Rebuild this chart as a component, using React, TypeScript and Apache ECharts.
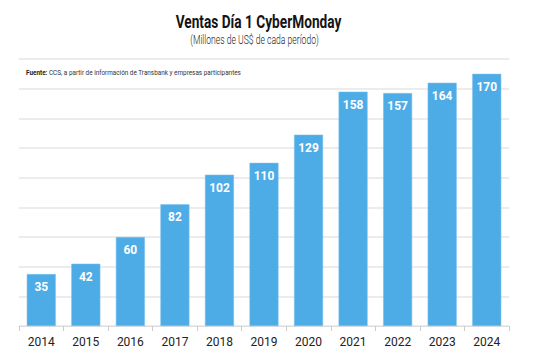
import React, { useEffect, useRef } from "react";
import * as echarts from "echarts";

const years = ["2014", "2015", "2016", "2017", "2018", "2019", "2020", "2021", "2022", "2023", "2024"];
const sales = [35, 42, 60, 82, 102, 110, 129, 158, 157, 164, 170];

const titleText = "Ventas Día 1 CyberMonday";
const subtitleText = "(Millones de US$ de cada período)";
const sourceLabel = "Fuente:";
const sourceText = " CCS, a partir de información de Transbank y empresas participantes";

const FONT = "Roboto, 'Noto Sans', sans-serif";

export default function App() {
  const ref = useRef<HTMLDivElement>(null);
  useEffect(() => {
    document.body.style.margin = "0";
    const chart = echarts.init(ref.current!, null, { renderer: "svg" });
    chart.setOption({
      animation: false,
      backgroundColor: "#ffffff",
      textStyle: { fontFamily: FONT },
      graphic: [
        {
          type: "text",
          x: 258.5,
          y: 22,
          scaleX: 0.72,
          style: {
            text: titleText,
            x: 0,
            y: 0,
            textAlign: "center",
            textVerticalAlign: "middle",
            fontFamily: FONT,
            fontSize: 19,
            fontWeight: "bold",
            fill: "#141414",
          },
        },
        {
          type: "text",
          x: 254.5,
          y: 40,
          scaleX: 0.69,
          style: {
            text: subtitleText,
            x: 0,
            y: 0,
            textAlign: "center",
            textVerticalAlign: "middle",
            fontFamily: FONT,
            fontSize: 12.5,
            fontWeight: 300,
            fill: "#222222",
          },
        },
        {
          type: "text",
          x: 26,
          y: 72.5,
          scaleX: 0.91,
          style: {
            x: 0,
            y: 0,
            textVerticalAlign: "middle",
            rich: {
              b: { fontFamily: FONT, fontSize: 7, fontWeight: "bold", fill: "#222" },
              n: { fontFamily: FONT, fontSize: 7, fill: "#333" },
            },
            text: "{b|" + sourceLabel + "}{n|" + sourceText + "}",
          },
        },
      ],
      grid: { left: 19, right: 36, top: 59, bottom: 38, containLabel: false },
      xAxis: {
        type: "category",
        data: years,
        axisLine: { show: true, lineStyle: { color: "#dddddd", width: 1 } },
        axisTick: { show: true, length: 5, lineStyle: { color: "#cccccc" } },
        axisLabel: { color: "#222222", fontSize: 12, margin: 10, fontFamily: FONT },
      },
      yAxis: {
        type: "value",
        min: 0,
        max: 180,
        interval: 20,
        axisLabel: { show: false },
        axisLine: { show: false },
        axisTick: { show: false },
        splitLine: { show: true, lineStyle: { color: "#e6e6e6", width: 1.5 } },
      },
      series: [
        {
          type: "bar",
          data: sales,
          barWidth: 29,
          itemStyle: { color: "#4dace6", borderColor: "#7cc3ee", borderWidth: 0.5 },
          label: {
            show: true,
            position: "insideTop",
            distance: 7,
            color: "#ffffff",
            fontSize: 12,
            fontWeight: "bold",
            fontFamily: FONT,
          },
        },
      ],
    });
    return () => chart.dispose();
  }, []);
  return <div ref={ref} style={{ width: 545, height: 364 }} />;
}
